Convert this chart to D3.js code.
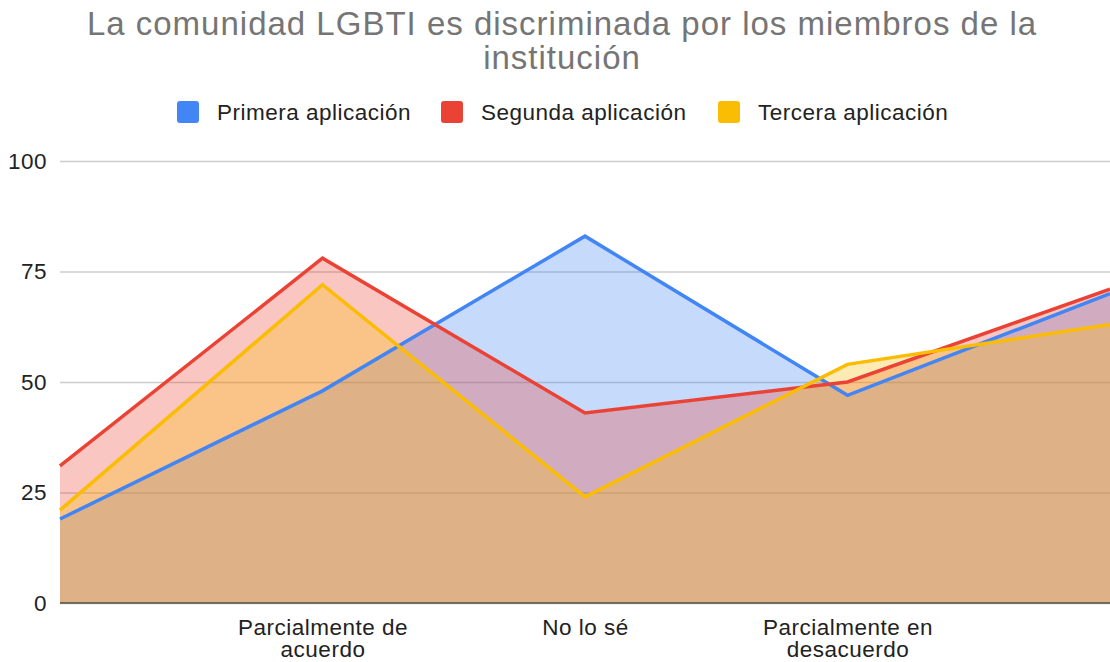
<!DOCTYPE html>
<html lang="es">
<head>
<meta charset="UTF-8">
<title>La comunidad LGBTI es discriminada</title>
<script src="https://cdn.jsdelivr.net/npm/d3@7"></script>
<style>
  body { margin: 0; background: #fff; }
  svg { font-family: "Liberation Sans", Arial, sans-serif; }
</style>
</head>
<body>
<svg id="chart" width="1110" height="662"></svg>
<script>
// categories (first and last labels don't fit, so they aren't drawn)
var categories = ["Totalmente de acuerdo", "Parcialmente de acuerdo", "No lo sé", "Parcialmente en desacuerdo", "Totalmente en desacuerdo"];
var shownLabels = ["", "Parcialmente de\nacuerdo", "No lo sé", "Parcialmente en\ndesacuerdo", ""];
var seriesNames = ["Primera aplicación", "Segunda aplicación", "Tercera aplicación"];
var primera = [19, 48, 83, 47, 70];
var segunda = [31, 78, 43, 50, 71];
var tercera = [21, 72, 24, 54, 63];
var yTicks = [0, 25, 50, 75, 100];
var colors = ["#4285f4", "#ea4335", "#fbbc04"];

var series = [primera, segunda, tercera];
var svg = d3.select("#chart");
var FONT = '"Liberation Sans", Arial, sans-serif';

var m = {left: 60, right: 0, top: 161, bottom: 59};
var W = 1110, H = 662;

var x = d3.scalePoint().domain(categories).range([m.left, W - m.right]);
var y = d3.scaleLinear().domain([0, 100]).range([H - m.bottom, m.top]);

// title
svg.append("text")
    .attr("x", 562).attr("y", 35)
    .attr("text-anchor", "middle")
    .attr("font-size", "33px").attr("letter-spacing", "1px").attr("fill", "#757575")
    .text("La comunidad LGBTI es discriminada por los miembros de la");
svg.append("text")
    .attr("x", 562).attr("y", 69)
    .attr("text-anchor", "middle")
    .attr("font-size", "33px").attr("letter-spacing", "1px").attr("fill", "#757575")
    .text("institución");

// legend
var legX = [177, 441, 718];
seriesNames.forEach(function (name, i) {
    var g = svg.append("g").attr("transform", "translate(" + legX[i] + ",101)");
    g.append("rect").attr("width", 22).attr("height", 22).attr("rx", 3).attr("fill", colors[i]);
    g.append("text").attr("x", 40).attr("y", 19)
        .attr("font-size", "22.5px").attr("letter-spacing", "0.5px").attr("fill", "#222")
        .text(name);
});

// gridlines + y labels
var yAxis = d3.axisLeft(y).tickValues(yTicks).tickSize(-(W - m.left - m.right)).tickPadding(13);
var gy = svg.append("g").attr("transform", "translate(" + m.left + ",0)").call(yAxis);
gy.select(".domain").remove();
gy.selectAll(".tick line").attr("stroke", "#cccccc").attr("stroke-width", 1.3);
gy.selectAll(".tick text").attr("font-size", "22.5px").attr("letter-spacing", "0.5px").attr("fill", "#222")
    .attr("font-family", FONT);

// areas
var area = d3.area()
    .x(function (d, i) { return x(categories[i]); })
    .y0(y(0))
    .y1(function (d) { return y(d); });
var line = d3.line()
    .x(function (d, i) { return x(categories[i]); })
    .y(function (d) { return y(d); });

series.forEach(function (s, i) {
    svg.append("path").datum(s).attr("d", area)
        .attr("fill", colors[i]).attr("fill-opacity", 0.3);
});

// baseline
svg.append("line")
    .attr("x1", m.left).attr("x2", W - m.right)
    .attr("y1", y(0)).attr("y2", y(0))
    .attr("stroke", "#333").attr("stroke-opacity", 0.8).attr("stroke-width", 1.5);

series.forEach(function (s, i) {
    svg.append("path").datum(s).attr("d", line)
        .attr("fill", "none").attr("stroke", colors[i])
        .attr("stroke-width", 3.5).attr("stroke-linejoin", "miter");
});

// x labels
var xAxis = d3.axisBottom(x).tickSize(0).tickFormat("");
var gx = svg.append("g").attr("transform", "translate(0," + y(0) + ")").call(xAxis);
gx.select(".domain").remove();
gx.selectAll(".tick").each(function (d, i) {
    var lines = shownLabels[i].split("\n");
    var t = d3.select(this).append("text")
        .attr("text-anchor", "middle").attr("font-size", "22.5px").attr("letter-spacing", "0.5px")
        .attr("fill", "#222").attr("font-family", FONT);
    lines.forEach(function (l, j) {
        if (l) t.append("tspan").attr("x", 0).attr("y", 32 + j * 22).text(l);
    });
});
</script>
</body>
</html>
